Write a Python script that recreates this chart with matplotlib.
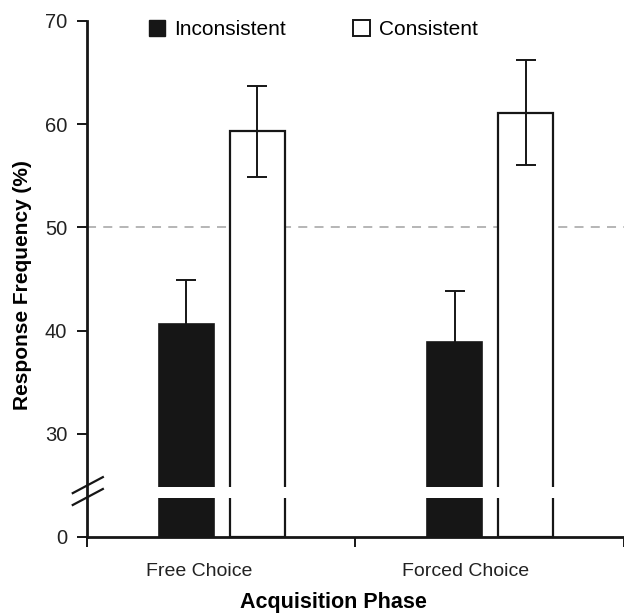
import numpy as np
import matplotlib
matplotlib.use("Agg")
from matplotlib import pyplot as plt
from matplotlib.patches import Patch

plt.rcParams['font.family'] = ['Liberation Sans', 'DejaVu Sans']

# datos
fases = ["Free Choice", "Forced Choice"]
inconsistente = [40.6, 38.9]
inconsistente_err = [4.3, 4.9]
consistente = [59.3, 61.1]
consistente_err = [4.4, 5.1]
yticks = [0, 30, 40, 50, 60, 70]

# eje y con corte: 0-30 comprimido
def fwd(v):
    v = np.asarray(v, dtype=float)
    return np.where(v < 30, 20 + v / 3.0, v)

def inv(s):
    s = np.asarray(s, dtype=float)
    return np.where(s < 30, (s - 20) * 3.0, s)

fig = plt.figure(figsize=(6.24, 6.13), dpi=100)
ax = fig.add_axes([0.139, 0.124, 0.861, 0.842])
ax.set_yscale('function', functions=(fwd, inv))

x = np.arange(len(fases)) + 0.5
w = 0.205
ax.bar(x - 0.13, inconsistente, w, color='#161616', edgecolor='#161616',
       linewidth=1.2, zorder=1)
ax.bar(x + 0.135, consistente, w, color='white', edgecolor='#161616',
       linewidth=1.6, zorder=1)
ax.errorbar(x - 0.13, inconsistente, yerr=inconsistente_err, fmt='none',
            ecolor='#161616', elinewidth=1.4, capsize=7, capthick=1.4, zorder=3)
ax.errorbar(x + 0.135, consistente, yerr=consistente_err, fmt='none',
            ecolor='#161616', elinewidth=1.4, capsize=7, capthick=1.4, zorder=3)

# hueco del corte
ax.axhspan(11.3, 14.4, xmin=0.005, xmax=1, color='white', zorder=2, lw=0)

# linea 50%
ax.axhline(50, color='#b0b0b0', lw=1.3, ls=(0, (5, 4)), zorder=0)

ax.set_xlim(0, 1.989)
ax.set_ylim(0, 70)
ax.set_yticks(yticks)
ax.set_yticklabels([str(t) for t in yticks], fontsize=14.5, color='#222222')
ax.set_xticks([0, 1, 2])
ax.set_xticklabels([])
ax.set_xticks([0.42, 1.41], minor=True)
ax.set_xticklabels(fases, minor=True, fontsize=14, color='#222222')
ax.tick_params(axis='x', which='minor', length=0, pad=19)
ax.tick_params(axis='both', which='major', width=1.4, length=7, color='#161616')
ax.tick_params(axis='y', which='major', pad=7)
ax.tick_params(axis='y', which='minor', left=False)

for s in ['top', 'right']:
    ax.spines[s].set_visible(False)
for s in ['left', 'bottom']:
    ax.spines[s].set_linewidth(2)
    ax.spines[s].set_color('#161616')

# marcas del corte
ax.plot([-0.026, 0.030], [0.085, 0.116], transform=ax.transAxes, color='#161616',
        lw=1.6, clip_on=False, zorder=5)
ax.plot([-0.026, 0.030], [0.062, 0.093], transform=ax.transAxes, color='#161616',
        lw=1.6, clip_on=False, zorder=5)

ax.set_ylabel("Response Frequency (%)", fontsize=15, fontweight='bold')
ax.yaxis.set_label_coords(-0.102, 0.488)
ax.set_xlabel("Acquisition Phase", fontsize=15.5, fontweight='bold')
ax.xaxis.set_label_coords(0.46, -0.107)

handles = [Patch(facecolor='#161616', edgecolor='#161616'),
           Patch(facecolor='white', edgecolor='#161616', linewidth=1.4)]
ax.legend(handles, ["Inconsistent", "Consistent"], loc='center left',
          bbox_to_anchor=(0.115, 0.983), ncol=2, frameon=False, fontsize=15,
          borderpad=0, borderaxespad=0,
          handlelength=0.8, handleheight=0.8, columnspacing=3.2, handletextpad=0.45)

plt.savefig("out.png", dpi=100)
